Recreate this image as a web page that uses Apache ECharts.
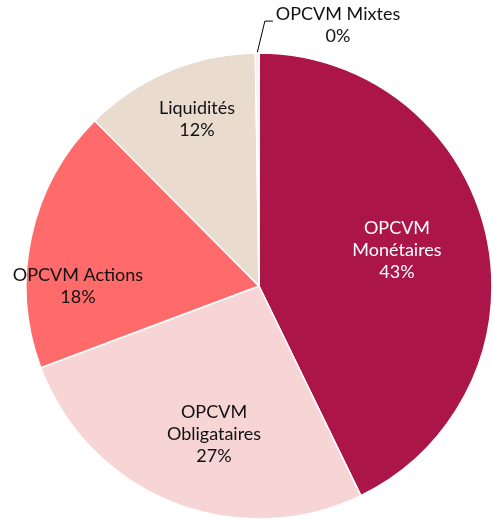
<!DOCTYPE html>
<html>
<head>
<meta charset="utf-8">
<script src="https://cdn.jsdelivr.net/npm/echarts@6/dist/echarts.min.js"></script>
<style>
html,body{margin:0;padding:0;background:#fff;}
#chart{width:493px;height:521px;}
</style>
</head>
<body>
<div id="chart"></div>
<script>
// ---- data ----
const categories = ['OPCVM Monétaires', 'OPCVM Obligataires', 'OPCVM Actions', 'Liquidités', 'OPCVM Mixtes'];
const labelTexts = ['OPCVM\nMonétaires', 'OPCVM\nObligataires', 'OPCVM Actions', 'Liquidités', 'OPCVM Mixtes'];
const values = [42.8, 26.5, 18.25, 12.2, 0.25];

// ---- style ----
const colors = ['#AB1548', '#F7D5D5', '#FF6B6B', '#EADBCF', '#F4EEEA'];
const labelColors = ['#ffffff', '#111111', '#111111', '#111111', '#111111'];
// label anchor as [angle from top (deg, clockwise), radius fraction]
const labelPolar = [[75.4, 0.612], [196.9, 0.664], [270, 0.777], [339.6, 0.764], [3.7, 1.122]];
const CXF = 259 / 493, CYF = 286 / 521, R = 233;

const chart = echarts.init(document.getElementById('chart'), null, {renderer: 'canvas'});
const W = chart.getWidth(), H = chart.getHeight();
const CX = W * CXF, CY = H * CYF;

const seriesData = categories.map((name, i) => {
  const isOut = i === 4;
  return {
    name: name,
    value: values[i],
    itemStyle: {color: colors[i]},
    label: {
      position: isOut ? 'outside' : 'inside',
      color: labelColors[i]
    },
    labelLine: {show: isOut, length: 10, length2: 8, lineStyle: {color: '#000', width: 1}}
  };
});

chart.setOption({
  animation: false,
  backgroundColor: '#ffffff',
  series: [{
    type: 'pie',
    center: [(CXF * 100) + '%', (CYF * 100) + '%'],
    radius: [0, R],
    startAngle: 90,
    clockwise: true,
    avoidLabelOverlap: false,
    minAngle: 0,
    itemStyle: {borderColor: '#ffffff', borderWidth: 1.5},
    label: {
      show: true,
      fontFamily: 'Lato',
      fontSize: 18,
      lineHeight: 22,
      align: 'center',
      formatter: p => labelTexts[p.dataIndex] + '\n' + Math.round(p.percent) + '%'
    },
    emphasis: {disabled: true},
    labelLayout: function (p) {
      const i = p.dataIndex;
      const t = labelPolar[i];
      const a = t[0] * Math.PI / 180;
      const r = R * t[1];
      const x = CX + r * Math.sin(a);
      const y = CY - r * Math.cos(a);
      if (i === 4) {
        const p0 = p.labelLinePoints ? p.labelLinePoints[0] : [CX, CY - R];
        const w = p.labelRect ? p.labelRect.width : 120;
        return {
          x: x + w / 2, y: y, align: 'center', verticalAlign: 'middle',
          labelLinePoints: [[p0[0], p0[1]], [x - 11, y - 4], [x - 3, y - 4]]
        };
      }
      return {x: x, y: y, align: 'center', verticalAlign: 'middle'};
    },
    data: seriesData
  }]
});
</script>
</body>
</html>
